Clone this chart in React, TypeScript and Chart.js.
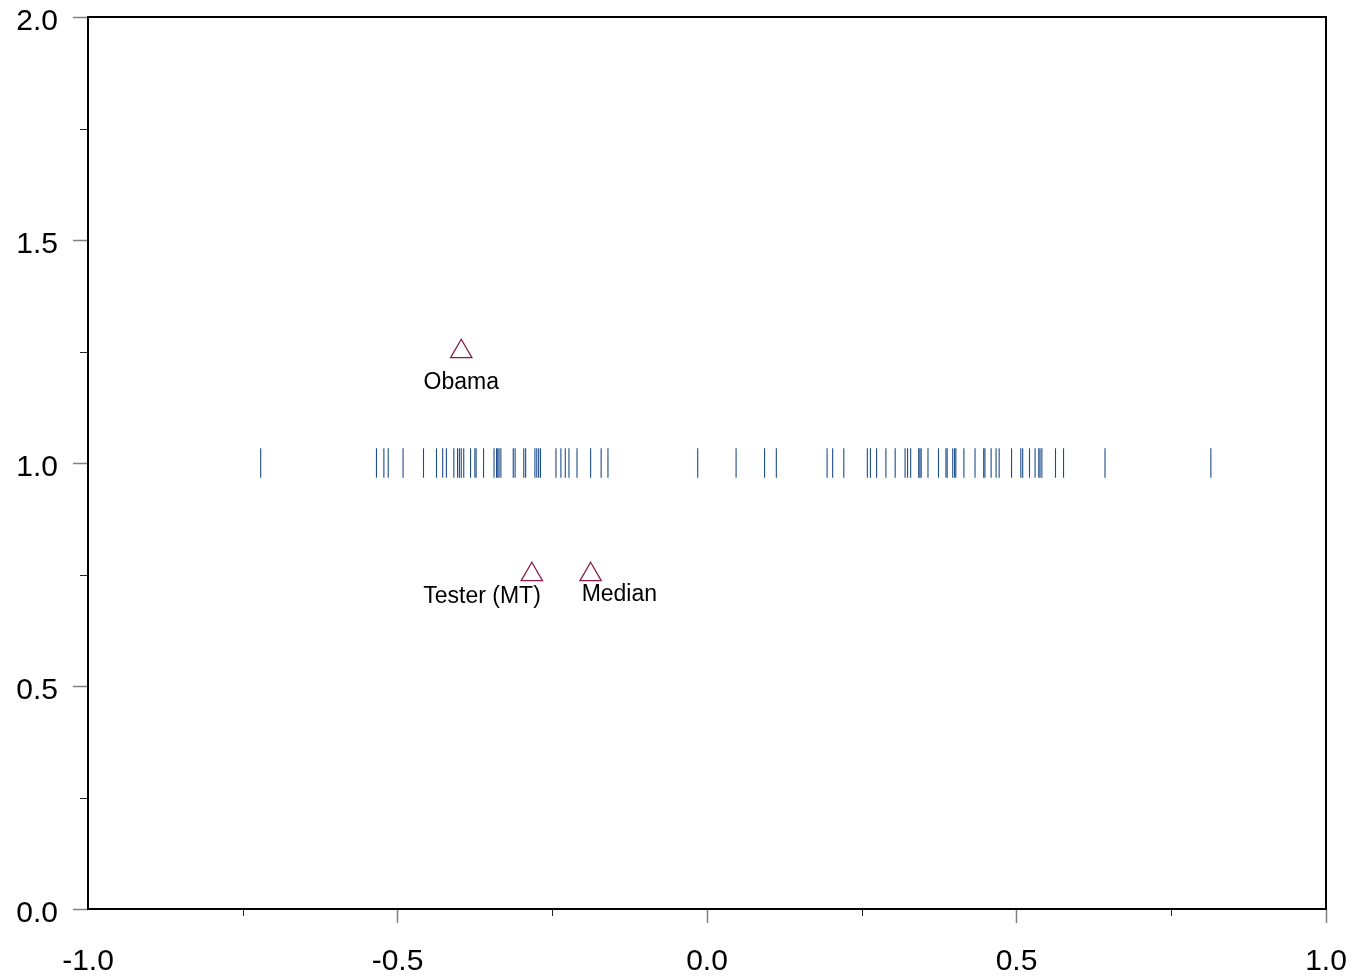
import React, { useEffect, useRef } from 'react';
import { Chart, registerables } from 'chart.js';

Chart.register(...registerables);

// Rug positions (ideal points) drawn at y = 1
const rugValues = [
  -0.721, -0.534, -0.522, -0.515, -0.491, -0.458, -0.437, -0.427, -0.421, -0.409,
  -0.403, -0.4, -0.397, -0.393, -0.382, -0.375, -0.373, -0.361, -0.344, -0.34,
  -0.338, -0.336, -0.333, -0.313, -0.31, -0.296, -0.293, -0.278, -0.275, -0.272,
  -0.269, -0.244, -0.236, -0.229, -0.223, -0.21, -0.188, -0.171, -0.16, -0.015,
  0.047, 0.093, 0.112, 0.194, 0.203, 0.221, 0.259, 0.264, 0.274, 0.289,
  0.304, 0.32, 0.324, 0.329, 0.342, 0.344, 0.346, 0.357, 0.374, 0.386,
  0.388, 0.397, 0.4, 0.402, 0.415, 0.433, 0.447, 0.449, 0.459, 0.467,
  0.472, 0.492, 0.507, 0.51, 0.521, 0.53, 0.536, 0.538, 0.541, 0.563,
  0.576, 0.643, 0.814,
];
const rugLevel = 1.0;

const markerNames = ['Obama', 'Tester (MT)', 'Median'];
const markerX = [-0.397, -0.283, -0.188];
const markerY = [1.25, 0.75, 0.75];

const xMinorTicks = [-0.75, -0.25, 0.25, 0.75];
const yMinorTicks = [0.25, 0.75, 1.25, 1.75];

const FONT = "Arial, 'Liberation Sans', sans-serif";
const RUG_COLOR = '#1c4c8a';
const MARKER_COLOR = '#8c1c4c';

// label placement relative to the marker pixel (styling only)
const labelPlacement = [
  { dx: 0, dy: 31, align: 'center' },
  { dx: 9, dy: 22, align: 'right' },
  { dx: -9, dy: 20, align: 'left' },
];

const zeroPadding = (s: any) => {
  s.paddingTop = 0;
  s.paddingBottom = 0;
  s.paddingLeft = 0;
  s.paddingRight = 0;
};

const decorPlugin = {
  id: 'decor',
  afterDraw(chart: any) {
    const { ctx, chartArea, scales } = chart;
    const xs = scales.x;
    const ys = scales.y;
    ctx.save();
    // minor ticks
    ctx.strokeStyle = '#222';
    ctx.lineWidth = 1;
    ctx.beginPath();
    xMinorTicks.forEach((v) => {
      const px = Math.round(xs.getPixelForValue(v)) + 0.5;
      ctx.moveTo(px, chartArea.bottom);
      ctx.lineTo(px, chartArea.bottom + 7);
    });
    yMinorTicks.forEach((v) => {
      const py = Math.round(ys.getPixelForValue(v)) + 0.5;
      ctx.moveTo(chartArea.left - 8, py);
      ctx.lineTo(chartArea.left, py);
    });
    ctx.stroke();
    // frame
    ctx.strokeStyle = '#000';
    ctx.lineWidth = 2;
    ctx.strokeRect(chartArea.left, chartArea.top, chartArea.right - chartArea.left, chartArea.bottom - chartArea.top);
    // marker labels
    ctx.fillStyle = '#000';
    ctx.font = `23px ${FONT}`;
    ctx.textBaseline = 'middle';
    markerNames.forEach((name, i) => {
      const p = labelPlacement[i];
      const px = xs.getPixelForValue(markerX[i]);
      const py = ys.getPixelForValue(markerY[i]);
      ctx.textAlign = p.align as CanvasTextAlign;
      ctx.fillText(name, px + p.dx, py + p.dy);
    });
    ctx.restore();
  },
};

export default function App() {
  const ref = useRef<HTMLCanvasElement | null>(null);

  useEffect(() => {
    if (!ref.current) return;
    const chart = new Chart(ref.current, {
      type: 'scatter',
      data: {
        datasets: [
          {
            label: 'rug',
            data: rugValues.map((v) => ({ x: v, y: rugLevel })),
            pointStyle: 'line',
            rotation: 90,
            pointRadius: 14.7,
            pointBorderWidth: 1.1,
            borderColor: RUG_COLOR,
            backgroundColor: RUG_COLOR,
          },
          {
            label: 'markers',
            data: markerX.map((v, i) => ({ x: v, y: markerY[i] })),
            pointStyle: 'triangle',
            pointRadius: 12.3,
            pointBorderWidth: 1.3,
            borderColor: MARKER_COLOR,
            backgroundColor: 'rgba(0,0,0,0)',
          },
        ],
      },
      options: {
        responsive: false,
        animation: false,
        devicePixelRatio: 1,
        layout: { padding: { top: 17, right: 29, left: 0, bottom: 0 } },
        plugins: { legend: { display: false }, tooltip: { enabled: false } },
        scales: {
          x: {
            type: 'linear',
            min: -1,
            max: 1,
            afterFit: (s: any) => {
              s.height = 69;
              zeroPadding(s);
            },
            border: { display: false },
            grid: {
              drawOnChartArea: false,
              drawTicks: true,
              tickLength: 14,
              tickWidth: 1.5,
              tickColor: (c: any) => (c.tick && c.tick.value === -1 ? 'rgba(0,0,0,0)' : '#808080'),
            },
            ticks: {
              stepSize: 0.5,
              padding: 21,
              color: '#000',
              font: { family: FONT, size: 30 },
              maxRotation: 0,
              callback: (v: any) => Number(v).toFixed(1),
            },
          },
          y: {
            type: 'linear',
            min: 0,
            max: 2,
            afterFit: (s: any) => {
              s.width = 88;
              zeroPadding(s);
            },
            border: { display: false },
            grid: {
              drawOnChartArea: false,
              drawTicks: true,
              tickLength: 15,
              tickWidth: 1.5,
              tickColor: '#808080',
            },
            ticks: {
              stepSize: 0.5,
              padding: 15,
              labelOffset: 5,
              color: '#000',
              font: { family: FONT, size: 30 },
              callback: (v: any) => Number(v).toFixed(1),
            },
          },
        },
      },
      plugins: [decorPlugin],
    } as any);
    return () => chart.destroy();
  }, []);

  return (
    <div style={{ position: 'absolute', left: 0, top: 0, width: 1355, height: 978, background: '#fff' }}>
      <canvas ref={ref} width={1355} height={978} style={{ display: 'block' }} />
    </div>
  );
}
